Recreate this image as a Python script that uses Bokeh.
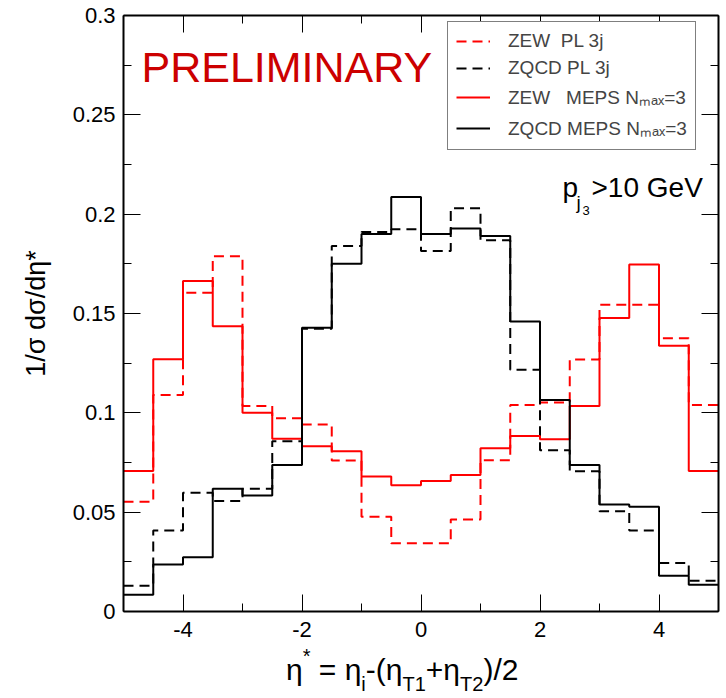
from bokeh.plotting import figure
from bokeh.models import (Range1d, LinearAxis, FixedTicker, Legend, LegendItem, Label, Div)
from bokeh.layouts import column
from bokeh.embed import file_html
from bokeh.resources import INLINE

# ---------------- data ----------------
bin_edges = [-5.0, -4.5, -4.0, -3.5, -3.0, -2.5, -2.0, -1.5, -1.0, -0.5, 0.0,
             0.5, 1.0, 1.5, 2.0, 2.5, 3.0, 3.5, 4.0, 4.5, 5.0]

zew_pl = [0.0552, 0.109, 0.1605, 0.1788, 0.1035, 0.0973, 0.0941, 0.076, 0.0477, 0.0343,
          0.0343, 0.0463, 0.0761, 0.1039, 0.1052, 0.1268, 0.1544, 0.1544, 0.1376, 0.1039]
zqcd_pl = [0.013, 0.0408, 0.0598, 0.0556, 0.0618, 0.0857, 0.1423, 0.184, 0.191, 0.1924,
           0.1815, 0.203, 0.1869, 0.1217, 0.0812, 0.0706, 0.0505, 0.0408, 0.0244, 0.0155]
zew_meps = [0.0707, 0.127, 0.1664, 0.1436, 0.1, 0.087, 0.0832, 0.0807, 0.0679, 0.0636,
            0.0657, 0.0687, 0.0822, 0.0884, 0.0867, 0.1035, 0.1477, 0.1747, 0.1338, 0.0707]
zqcd_meps = [0.0084, 0.0236, 0.0273, 0.0618, 0.0584, 0.0737, 0.1428, 0.175, 0.190, 0.2086,
             0.190, 0.1928, 0.189, 0.146, 0.1064, 0.0737, 0.0539, 0.0527, 0.018, 0.0135]

series_labels = ["ZEW  PL 3j", "ZQCD PL 3j", "ZEW   MEPS N\u2098\u2090\u2093=3", "ZQCD MEPS N\u2098\u2090\u2093=3"]

x_major = [-4, -2, 0, 2, 4]
x_major_labels = ["-4", "-2", "0", "2", "4"]
x_minor = [-5, -3, -1, 1, 3, 5]
y_major = [0, 0.05, 0.1, 0.15, 0.2, 0.25, 0.3]
y_major_labels = ["0", "0.05", "0.1", "0.15", "0.2", "0.25", "0.3"]
y_minor = [0.025, 0.075, 0.125, 0.175, 0.225, 0.275]

FONT = "Liberation Sans"
RED = "#ff0000"

# ---------------- figure ----------------
W = 726
H_PLOT, H_XLAB = 655, 43
BL, BR, BT, BB = 123, 8, 15, 44
p = figure(width=W, height=H_PLOT, output_backend="svg", toolbar_location=None,
           x_range=Range1d(-5, 5), y_range=Range1d(0, 0.3),
           x_axis_location=None, y_axis_location=None,
           min_border_left=BL, min_border_right=BR, min_border_top=BT, min_border_bottom=BB)
p.xgrid.visible = False
p.ygrid.visible = False
p.outline_line_color = None
p.background_fill_color = "white"
p.border_fill_color = "white"

def style_axis(ax, major, minor, labels, show_labels):
    ax.ticker = FixedTicker(ticks=major, minor_ticks=minor)
    ax.axis_line_width = 2
    ax.axis_line_color = "black"
    ax.major_tick_in = 17
    ax.major_tick_out = 0
    ax.minor_tick_in = 8
    ax.minor_tick_out = 0
    ax.major_tick_line_width = 1
    ax.minor_tick_line_width = 1
    ax.major_tick_line_color = "black"
    ax.minor_tick_line_color = "black"
    if show_labels:
        ax.major_label_overrides = {t: l for t, l in zip(major, labels)}
        ax.major_label_text_font = FONT
        ax.major_label_text_font_size = "22px"
        ax.major_label_text_color = "black"
    else:
        ax.major_label_overrides = {t: "" for t in major}
        ax.major_label_text_color = None
        ax.major_label_standoff = 0

xb = LinearAxis()
style_axis(xb, x_major, x_minor, x_major_labels, True)
xb.major_label_standoff = 10
p.add_layout(xb, "below")

xt = LinearAxis()
style_axis(xt, x_major, x_minor, x_major_labels, False)
p.add_layout(xt, "above")

yl = LinearAxis()
style_axis(yl, y_major, y_minor, y_major_labels, True)
yl.major_label_standoff = 8
yl.axis_label = "1/\u03c3 d\u03c3/d\u03b7*"
yl.axis_label_text_font = FONT
yl.axis_label_text_font_size = "27px"
yl.axis_label_text_font_style = "normal"
yl.axis_label_text_color = "black"
yl.axis_label_standoff = 19
p.add_layout(yl, "left")

yr = LinearAxis()
style_axis(yr, y_major, y_minor, y_major_labels, False)
p.add_layout(yr, "right")

# ---------------- histograms ----------------
def closed(vals):
    return list(vals) + [vals[-1]]

r_zew_pl = p.step(bin_edges, closed(zew_pl), mode="after", line_color=RED, line_width=2, line_dash="10 6")
r_zqcd_pl = p.step(bin_edges, closed(zqcd_pl), mode="after", line_color="black", line_width=2, line_dash="10 6")
r_zew_meps = p.step(bin_edges, closed(zew_meps), mode="after", line_color=RED, line_width=2)
r_zqcd_meps = p.step(bin_edges, closed(zqcd_meps), mode="after", line_color="black", line_width=2)

legend = Legend(items=[LegendItem(label=lab, renderers=[r]) for lab, r in
                       zip(series_labels, [r_zew_pl, r_zqcd_pl, r_zew_meps, r_zqcd_meps])],
                location=(324, 461))
legend.label_text_font = FONT
legend.label_text_font_size = "19px"
legend.label_height = 20
legend.glyph_height = 20
legend.glyph_width = 34
legend.spacing = 5
legend.padding = 8
legend.label_standoff = 18
legend.border_line_color = "black"
legend.border_line_width = 1
legend.background_fill_alpha = 1
p.add_layout(legend, "center")

# ---------------- annotations (pixel -> data helpers) ----------------
FL, FR, FT, FB = BL, W - BR, BT, H_PLOT - BB
def dx(px):
    return -5 + (px - FL) / (FR - FL) * 10
def dy(py):
    return (FB - py) / (FB - FT) * 0.3

def lab(text, px, py, size, color="black"):
    p.add_layout(Label(x=dx(px), y=dy(py), text=text, text_font=FONT, text_font_size=f"{size}px",
                       text_color=color, text_align="left", text_baseline="alphabetic"))

lab("PRELIMINARY", 141, 66, 43, "#cc0000")

# p_{j_3} > 10 GeV
lab("p", 562, 187, 28)
lab("j", 576, 202, 19)
lab("3", 582, 210, 13)
lab(">10 GeV", 591, 187, 28)

# ---------------- x-axis title as HTML (sub/superscripts) ----------------
sub = "font-size:20px; position:relative; top:11px;"
sup = "font-size:20px; position:relative; top:-17px;"
xlab_html = (
    f'<div style="font-family:\'{FONT}\'; font-size:30px; line-height:30px; white-space:pre; '
    f'color:black; padding-top:0px; margin-left:286px;">'
    f'\u03b7<span style="{sup}">*</span> = \u03b7<span style="{sub}">i</span>-(\u03b7'
    f'<span style="{sub}">T1</span>+\u03b7<span style="{sub}">T2</span>)/2</div>'
)
xlabel_div = Div(text=xlab_html, width=W, height=H_XLAB, margin=0,
                 styles={"background-color": "white"})

layout = column(p, xlabel_div, spacing=0)

open("out.html", "w").write(file_html(layout, INLINE))
